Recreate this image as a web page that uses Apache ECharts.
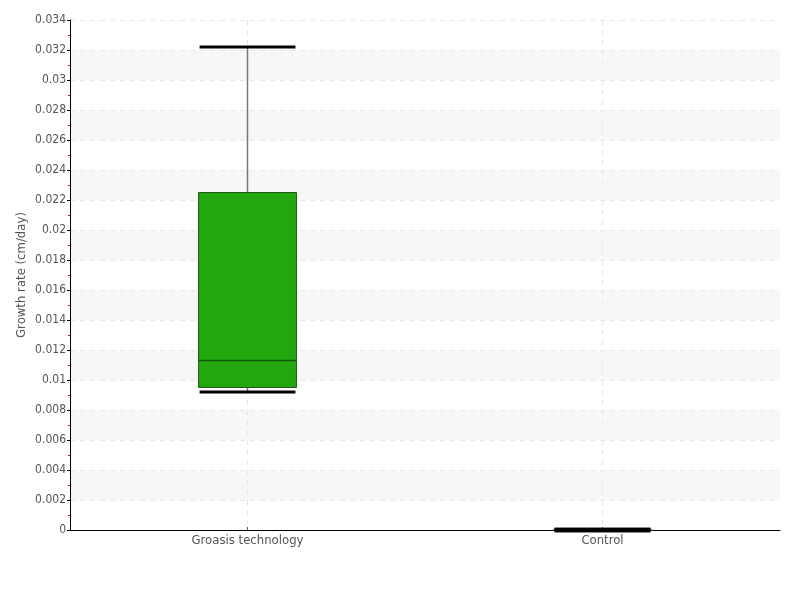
<!DOCTYPE html>
<html>
<head>
<meta charset="utf-8">
<script src="https://cdn.jsdelivr.net/npm/echarts@6/dist/echarts.min.js"></script>
<style>
	html, body { margin: 0; padding: 0; background: #fff; }
	#chart { width: 800px; height: 600px; }
</style>
</head>
<body>
<div id="chart"></div>
<script>
const categories = ['Groasis technology', 'Control']
// [min, Q1, median, Q3, max]
const boxValues = [
	[0.0092, 0.0095, 0.0113, 0.0225, 0.0322],
	[0, 0, 0, 0, 0],
]
const yTicks = { min: 0, max: 0.034, interval: 0.002 }

const font = '"DejaVu Sans Condensed", "DejaVu Sans", sans-serif'

const myChart = echarts.init(document.getElementById('chart'))

function renderBox(params, api) {
	const idx = api.value(0)
	const lo = api.coord([idx, api.value(1)])
	const q1 = api.coord([idx, api.value(2)])
	const med = api.coord([idx, api.value(3)])
	const q3 = api.coord([idx, api.value(4)])
	const hi = api.coord([idx, api.value(5)])
	const top = api.coord([idx, yTicks.max])
	const bottom = api.coord([idx, yTicks.min])
	const band = api.size([1, 0])[0]
	const half = band * 0.135
	const x = lo[0]
	const flat = q1[1] - q3[1] < 1
	return {
		type: 'group',
		children: [
			// vertical grid line at the category
			{
				type: 'line',
				shape: { x1: x, y1: top[1], x2: x, y2: bottom[1] },
				style: { stroke: '#e8e8e8', lineWidth: 1, lineDash: [5, 5] },
			},
			{
				type: 'line',
				shape: { x1: x, y1: hi[1], x2: x, y2: q3[1] },
				style: { stroke: '#777', lineWidth: 1.5 },
			},
			{
				type: 'line',
				shape: { x1: x, y1: q1[1], x2: x, y2: lo[1] },
				style: { stroke: '#777', lineWidth: 1.5 },
			},
			{
				type: 'rect',
				shape: { x: x - half - 1, y: q3[1], width: half * 2 + 2, height: q1[1] - q3[1] },
				style: { fill: '#22a70f', stroke: '#1d5a14', lineWidth: 1 },
			},
			{
				type: 'line',
				shape: { x1: x - half - 1, y1: med[1], x2: x + half + 1, y2: med[1] },
				style: { stroke: '#135a0b', lineWidth: 1.5 },
			},
			{
				type: 'line',
				shape: { x1: x - half, y1: hi[1], x2: x + half, y2: hi[1] },
				style: { stroke: '#000', lineWidth: flat ? 4.5 : 3 },
			},
			{
				type: 'line',
				shape: { x1: x - half, y1: lo[1], x2: x + half, y2: lo[1] },
				style: { stroke: '#000', lineWidth: flat ? 4.5 : 3 },
			},
		],
	}
}

const option = {
	backgroundColor: '#fff',
	animation: false,
	textStyle: { fontFamily: font },
	grid: { left: 70, right: 20, top: 20, bottom: 70 },
	xAxis: {
		type: 'category',
		data: categories,
		axisLine: { lineStyle: { color: '#000', width: 1 } },
		axisTick: { show: true, alignWithLabel: true, inside: true, length: 3, lineStyle: { color: '#555' } },
		axisLabel: { color: '#555', fontSize: 13, fontFamily: font, margin: 4 },
		splitLine: { show: false },
	},
	yAxis: {
		type: 'value',
		min: yTicks.min,
		max: yTicks.max,
		interval: yTicks.interval,
		name: 'Growth rate (cm/day)',
		nameLocation: 'middle',
		nameGap: 42,
		nameMoveOverlap: false,
		nameTextStyle: { color: '#555', fontSize: 13, fontFamily: font },
		axisLine: { show: true, lineStyle: { color: '#000' } },
		axisTick: { show: true, length: 3, lineStyle: { color: '#000' } },
		minorTick: { show: true, splitNumber: 2, length: 2, lineStyle: { color: '#e00000' } },
		axisLabel: { color: '#555', fontSize: 12, fontFamily: font, margin: 4 },
		splitLine: { show: true, lineStyle: { type: [5, 5], color: '#e8e8e8' } },
		splitArea: { show: true, areaStyle: { color: ['#ffffff', '#f7f7f7'] } },
	},
	series: [
		{
			type: 'custom',
			renderItem: renderBox,
			encode: { x: 0, y: [1, 2, 3, 4, 5] },
			data: boxValues.map((v, i) => [i].concat(v)),
			clip: false,
		},
	],
}

myChart.setOption(option)
</script>
</body>
</html>
